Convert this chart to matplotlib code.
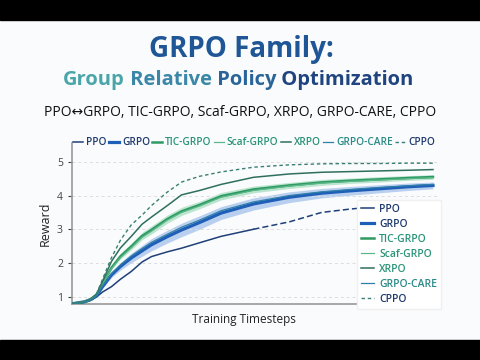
import matplotlib
matplotlib.use("Agg")
import matplotlib.pyplot as plt
from matplotlib.patches import Rectangle

plt.rcParams['font.family'] = ['Open Sans', 'DejaVu Sans']

# normalised training progress
t = [0, 0.03, 0.048, 0.064, 0.08, 0.105, 0.13, 0.16, 0.19, 0.216, 0.26, 0.30, 0.35, 0.41, 0.50, 0.60, 0.69, 0.77, 0.85, 0.93, 1.0]

cppo      = [0.80, 0.85, 0.93, 1.10, 1.52, 2.16, 2.68, 3.13, 3.42, 3.70, 4.10, 4.40, 4.57, 4.70, 4.84, 4.91, 4.94, 4.95, 4.95, 4.96, 4.96]
xrpo      = [0.80, 0.85, 0.93, 1.08, 1.46, 2.05, 2.45, 2.79, 3.15, 3.36, 3.70, 4.02, 4.15, 4.33, 4.54, 4.64, 4.69, 4.71, 4.73, 4.75, 4.77]
tic_grpo  = [0.80, 0.85, 0.93, 1.07, 1.40, 1.86, 2.20, 2.49, 2.80, 2.98, 3.30, 3.53, 3.72, 3.98, 4.18, 4.30, 4.39, 4.44, 4.48, 4.52, 4.55]
tic_band  = [0.00, 0.01, 0.01, 0.02, 0.04, 0.06, 0.08, 0.10, 0.11, 0.12, 0.12, 0.12, 0.11, 0.11, 0.10, 0.09, 0.09, 0.08, 0.08, 0.07, 0.07]
scaf_grpo = [0.80, 0.85, 0.93, 1.06, 1.38, 1.83, 2.16, 2.45, 2.76, 2.94, 3.27, 3.50, 3.69, 3.95, 4.15, 4.28, 4.37, 4.42, 4.46, 4.50, 4.53]
grpo      = [0.80, 0.85, 0.92, 1.04, 1.30, 1.65, 1.90, 2.15, 2.36, 2.54, 2.78, 2.98, 3.20, 3.48, 3.75, 3.95, 4.07, 4.14, 4.20, 4.26, 4.30]
grpo_band = [0.00, 0.01, 0.01, 0.02, 0.05, 0.08, 0.11, 0.14, 0.16, 0.18, 0.19, 0.20, 0.20, 0.19, 0.18, 0.16, 0.14, 0.13, 0.12, 0.11, 0.10]
grpo_care = [0.80, 0.85, 0.92, 1.05, 1.32, 1.69, 1.95, 2.21, 2.43, 2.61, 2.85, 3.06, 3.27, 3.55, 3.81, 4.00, 4.11, 4.18, 4.24, 4.29, 4.33]
ppo       = [0.80, 0.84, 0.90, 1.00, 1.14, 1.30, 1.52, 1.75, 2.03, 2.19, 2.33, 2.44, 2.60, 2.79, 3.00, 3.22, 3.50, 3.60, 3.68, 3.75, 3.81]

names  = ["PPO", "GRPO", "TIC-GRPO", "Scaf-GRPO", "XRPO", "GRPO-CARE", "CPPO"]
colors = ["#1f3f78", "#1f5fb8", "#2e9a62", "#5cb88a", "#2f6f5e", "#2f7fa8", "#3a7f74"]
text_c = ["#1f3a6e", "#1f3a6e", "#2a9478", "#2a9478", "#2a9478", "#2a8a86", "#1f3a6e"]

fig = plt.figure(figsize=(4.8, 3.6), dpi=100, facecolor="#fafbfc")
ax = fig.add_axes([0.15, 0.156, 0.767, 0.447], facecolor="#fafbfc")

# bands first
ax.fill_between(t, [a - b for a, b in zip(grpo, grpo_band)], [a + b for a, b in zip(grpo, grpo_band)],
                color="#6a9be0", alpha=0.45, lw=0, zorder=1)
ax.fill_between(t, [a - b for a, b in zip(tic_grpo, tic_band)], [a + b for a, b in zip(tic_grpo, tic_band)],
                color="#7fd0a4", alpha=0.5, lw=0, zorder=1)

h_ppo, = ax.plot(t[:15], ppo[:15], color=colors[0], lw=1.1, zorder=3)
ax.plot(t[14:], ppo[14:], color=colors[0], lw=1.1, ls=(0, (4, 2)), zorder=3)
h_grpo, = ax.plot(t, grpo, color=colors[1], lw=2.3, zorder=3)
h_tic, = ax.plot(t, tic_grpo, color=colors[2], lw=1.8, zorder=3)
h_scaf, = ax.plot(t, scaf_grpo, color=colors[3], lw=0.9, zorder=3)
h_xrpo, = ax.plot(t, xrpo, color=colors[4], lw=1.1, zorder=3)
h_care, = ax.plot(t, grpo_care, color=colors[5], lw=0.9, zorder=3)
h_cppo, = ax.plot(t, cppo, color=colors[6], lw=1.0, ls=(0, (2.5, 2)), zorder=3)
handles = [h_ppo, h_grpo, h_tic, h_scaf, h_xrpo, h_care, h_cppo]

ax.set_xlim(-0.005, 1.02)
ax.set_ylim(0.79, 5.56)
ax.set_yticks([1, 2, 3, 4, 5])
ax.set_xticks([])
ax.tick_params(axis="y", labelsize=7.5, colors="#444444", length=3, width=0.8)
ax.grid(axis="y", ls=(0, (3, 3)), color="#dddddd", lw=0.7)
for s in ("top", "right"):
    ax.spines[s].set_visible(False)
for s in ("left", "bottom"):
    ax.spines[s].set_color("#999999")
    ax.spines[s].set_linewidth(1.2)
ax.set_ylabel("Reward", fontsize=9, color="#222222", labelpad=4)
ax.set_xlabel("Training Timesteps", fontsize=8.5, color="#222222")
ax.xaxis.set_label_coords(0.467, -0.06)

# top legend row
leg1 = ax.legend(handles, names, ncol=7, loc="center left", bbox_to_anchor=(0.0, 1.0),
                 frameon=False, fontsize=7.3, handlelength=1.0, handletextpad=0.3,
                 columnspacing=0.2, borderaxespad=0, borderpad=0.1)
for txt, c in zip(leg1.get_texts(), text_c):
    txt.set_color(c)
    txt.set_fontweight("semibold")
ax.add_artist(leg1)

# right legend box
leg2 = ax.legend(handles, names, loc="lower left", bbox_to_anchor=(352 / 480, 46 / 360),
                 bbox_transform=fig.transFigure, frameon=True, fontsize=7.5,
                 handlelength=1.2, handletextpad=0.5, labelspacing=0.38,
                 borderpad=0.4, fancybox=False)
leg2.get_frame().set_facecolor("white")
leg2.get_frame().set_edgecolor("#f0f0f0")
leg2.get_frame().set_alpha(1)
for txt, c in zip(leg2.get_texts(), text_c):
    txt.set_color(c)
    txt.set_fontweight("semibold")

# titles
fig.text(0.502, 0.862, "GRPO Family:", ha="center", va="center", fontsize=20,
         fontweight="bold", color="#1f5696")
words = ["Group", "Relative", "Policy", "Optimization"]
wcol = ["#4aa5a9", "#3a87a8", "#2a6599", "#1f4480"]
prev = fig.text(0.131, 0.778, words[0], ha="left", va="center", fontsize=14.5,
                fontweight="bold", color=wcol[0])
for w, c in zip(words[1:], wcol[1:]):
    prev = ax.annotate(" " + w, xy=(1, 0.5), xycoords=prev, va="center", ha="left",
                       fontsize=14.5, fontweight="bold", color=c, annotation_clip=False)
fig.text(0.5, 0.687, "PPO\u2194GRPO, TIC-GRPO, Scaf-GRPO, XRPO, GRPO-CARE, CPPO",
         ha="center", va="center", fontsize=10, color="#111111")

# letterbox bars
fig.add_artist(Rectangle((0, 0), 1, 20 / 360, transform=fig.transFigure, color="black"))
fig.add_artist(Rectangle((0, 340 / 360), 1, 20 / 360, transform=fig.transFigure, color="black"))

fig.savefig("out.png", dpi=100, facecolor=fig.get_facecolor())
